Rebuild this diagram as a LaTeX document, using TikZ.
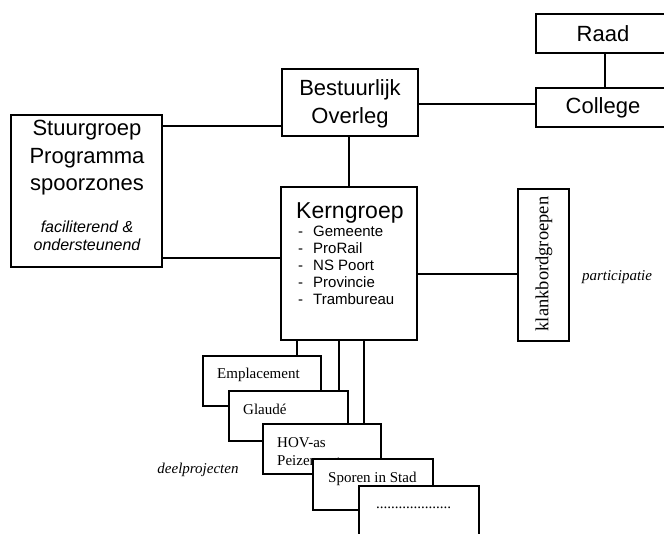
\documentclass[tikz,border=0pt]{standalone}
\usepackage{fontspec}
\setmainfont{Liberation Sans}
\newfontfamily\tms{Liberation Serif}
\begin{document}
\begin{tikzpicture}[x=1pt,y=-1pt,
  box/.style={draw=black, line width=1.2pt, fill=white, inner sep=0pt, minimum width=#1},
  big/.style={font=\fontsize{22}{26}\selectfont, inner sep=0pt},
  itm/.style={font=\fontsize{15}{17}\selectfont, inner sep=0pt, anchor=base west},
  sml/.style={font=\fontsize{16}{18}\selectfont\itshape, inner sep=0pt},
  prj/.style={font=\tms\fontsize{15}{16}\selectfont, inner sep=0pt, anchor=base west},
  con/.style={line width=1.2pt}]
\useasboundingbox (0,0) rectangle (664,533);
\clip (0,0) rectangle (664,533);
\fill[white] (0,0) rectangle (664,533);
% helper coordinates
\coordinate (ya) at (0,126);
\coordinate (yb) at (0,104);
\coordinate (yc) at (0,258);
\coordinate (yd) at (0,274);
\coordinate (xa) at (605,0);
\coordinate (xb) at (349,0);
\coordinate (xc) at (297,0);
\coordinate (xd) at (339,0);
\coordinate (xe) at (364,0);
% top right
\node[box=134pt, minimum height=39pt] (raad) at (603,33.5) {};
\node[big] (raadt) at (603,34) {Raad};
\node[box=134pt, minimum height=39pt] (coll) at (603,107.5) {};
\node[big] (collt) at (603,108) {College};
% Bestuurlijk Overleg
\node[box=136pt, minimum height=67pt] (bo) at (350,102.5) {};
\node[big] (bot1) at (350,90) {Bestuurlijk};
\node[big] (bot2) at (350,118) {Overleg};
% Stuurgroep
\node[box=151pt, minimum height=152pt] (sg) at (86.5,191) {};
\node[big] (sgt1) at (87,130) {Stuurgroep};
\node[big] (sgt2) at (87,158) {Programma};
\node[big] (sgt3) at (87,187) {spoorzones};
\node[sml] (sgt4) at (87,227) {faciliterend \&};
\node[sml] (sgt5) at (87,245) {ondersteunend};
% Kerngroep
\node[box=136pt, minimum height=153pt] (kg) at (349,263.5) {};
\node[font=\fontsize{23}{26}\selectfont, inner sep=0pt, anchor=base west] (kgt) at (296,218) {Kerngroep};
\foreach \t/\y/\n in {Gemeente/236/a,ProRail/253/b,NS Poort/270/c,Provincie/287/d,Trambureau/304/e}{
  \node[itm] (kgd\n) at (298,\y) {-};
  \node[itm] (kgi\n) at (313,\y) {\t};
}
% klankbordgroepen
\node[box=51pt, minimum height=152pt] (kb) at (543.5,265) {};
\node[font=\tms\fontsize{18.5}{20}\selectfont, rotate=90, inner sep=0pt] (kbt) at (544,264) {klankbordgroepen};
\node[font=\tms\fontsize{15}{17}\selectfont\itshape, inner sep=0pt] (part) at (617,277) {participatie};
% connectors
\draw[con] (raad.south -| xa) -- (coll.north -| xa);
\draw[con] (bo.east |- yb) -- (coll.west |- yb);
\draw[con] (sg.east |- ya) -- (bo.west |- ya);
\draw[con] (bo.south -| xb) -- (kg.north -| xb);
\draw[con] (sg.east |- yc) -- (kg.west |- yc);
\draw[con] (kg.east |- yd) -- (kb.west |- yd);
% deelprojecten
\node[box=118pt, minimum height=50pt] (emp) at (262,381) {};
\node[prj] (empt) at (217,378) {Emplacement};
\node[box=119pt, minimum height=50pt] (gla) at (288.5,416) {};
\node[prj] (glat) at (243,414) {Glaudé};
\node[box=118pt, minimum height=50pt] (hov) at (322,449) {};
\node[prj] (hovt1) at (277,447) {HOV-as};
\node[prj] (hovt2) at (277,465) {Peizerweg};
\node[box=120pt, minimum height=51pt] (spo) at (373,484.5) {};
\node[prj] (spot) at (328,482) {Sporen in Stad};
\node[box=120pt, minimum height=60pt] (dot) at (419,516) {};
\node[prj] (dott) at (376,508) {....................};
\node[font=\tms\fontsize{15}{17}\selectfont\itshape, inner sep=0pt] (deel) at (198,470) {deelprojecten};
\draw[con] (kg.south -| xc) -- (emp.north -| xc);
\draw[con] (kg.south -| xd) -- (gla.north -| xd);
\draw[con] (kg.south -| xe) -- (hov.north -| xe);
\end{tikzpicture}
\end{document}
